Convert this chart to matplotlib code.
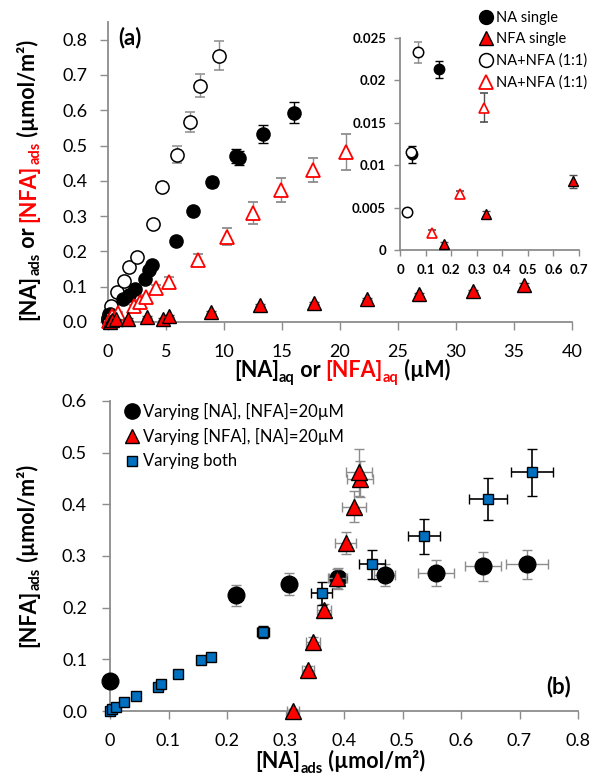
import matplotlib
matplotlib.use("Agg")
import matplotlib.pyplot as plt
from matplotlib.lines import Line2D

plt.rcParams['font.family'] = ['Lato', 'DejaVu Sans']

# ---------------- data: panel (a) ----------------
na_single_x = [0.045, 0.152, 1.3, 1.8, 2.3, 3.2, 3.5, 3.8, 5.86, 7.33, 8.97, 11.0, 11.3, 13.4, 16.0]
na_single_y = [0.0113, 0.0213, 0.065, 0.077, 0.094, 0.122, 0.148, 0.162, 0.230, 0.315, 0.397, 0.471, 0.465, 0.533, 0.593]
na_single_err = [0.001, 0.001, 0.004, 0.004, 0.005, 0.006, 0.007, 0.008, 0.010, 0.012, 0.015, 0.020, 0.020, 0.025, 0.030]

mix_na_x = [0.027, 0.043, 0.07, 0.26, 0.78, 1.38, 1.81, 2.5, 3.88, 4.66, 5.95, 7.07, 7.93, 9.57]
mix_na_y = [0.0045, 0.0115, 0.0233, 0.045, 0.085, 0.116, 0.156, 0.184, 0.278, 0.383, 0.474, 0.567, 0.670, 0.755]
mix_na_err = [0.0003, 0.0003, 0.0012, 0.003, 0.005, 0.006, 0.008, 0.009, 0.012, 0.015, 0.024, 0.028, 0.033, 0.040]

nfa_single_x = [0.172, 0.336, 0.676, 1.7, 3.4, 4.7, 5.3, 8.9, 13.1, 17.8, 22.3, 26.8, 31.5, 35.9]
nfa_single_y = [0.0007, 0.0043, 0.0081, 0.009, 0.014, 0.009, 0.017, 0.028, 0.048, 0.054, 0.065, 0.079, 0.088, 0.105]
nfa_single_err = [0.0003, 0.0003, 0.0008, 0.002, 0.002, 0.002, 0.002, 0.003, 0.003, 0.003, 0.003, 0.004, 0.004, 0.005]

mix_nfa_x = [0.125, 0.234, 0.328, 0.86, 2.2, 2.8, 3.3, 4.1, 5.3, 7.8, 10.3, 12.5, 14.9, 17.7, 20.5]
mix_nfa_y = [0.002, 0.0066, 0.0168, 0.025, 0.045, 0.057, 0.071, 0.096, 0.113, 0.176, 0.241, 0.309, 0.374, 0.431, 0.482]
mix_nfa_err = [0.0003, 0.0004, 0.0017, 0.003, 0.004, 0.005, 0.006, 0.008, 0.015, 0.016, 0.024, 0.030, 0.035, 0.035, 0.050]

legend_a = ["NA single", "NFA single", "NA+NFA (1:1)", "NA+NFA (1:1)"]

# ---------------- data: panel (b) ----------------
vna_x = [0.0, 0.215, 0.306, 0.39, 0.47, 0.557, 0.638, 0.713]
vna_y = [0.058, 0.224, 0.246, 0.257, 0.263, 0.267, 0.280, 0.284]
vna_xerr = [0.0, 0.010, 0.010, 0.015, 0.018, 0.031, 0.031, 0.036]
vna_yerr = [0.0, 0.020, 0.022, 0.020, 0.022, 0.026, 0.028, 0.028]

vnfa_x = [0.313, 0.339, 0.347, 0.366, 0.388, 0.403, 0.417, 0.427, 0.426]
vnfa_y = [0.0, 0.079, 0.134, 0.196, 0.257, 0.325, 0.395, 0.449, 0.462]
vnfa_xerr = [0.010, 0.010, 0.012, 0.012, 0.015, 0.018, 0.020, 0.022, 0.022]
vnfa_yerr = [0.004, 0.008, 0.010, 0.012, 0.018, 0.022, 0.030, 0.035, 0.045]

vb_x = [0.0, 0.004, 0.01, 0.024, 0.045, 0.082, 0.087, 0.117, 0.155, 0.172, 0.261, 0.362, 0.448, 0.537, 0.646, 0.721]
vb_y = [0.0, 0.003, 0.007, 0.017, 0.029, 0.047, 0.052, 0.072, 0.099, 0.104, 0.153, 0.228, 0.284, 0.338, 0.410, 0.462]
vb_xerr = [0.0, 0.0, 0.0, 0.0, 0.0, 0.0, 0.0, 0.0, 0.0, 0.004, 0.010, 0.018, 0.022, 0.027, 0.032, 0.036]
vb_yerr = [0.0, 0.0, 0.0, 0.0, 0.0, 0.0, 0.0, 0.0, 0.0, 0.004, 0.012, 0.022, 0.028, 0.034, 0.041, 0.046]

legend_b = ["Varying [NA], [NFA]=20µM", "Varying [NFA], [NA]=20µM", "Varying both"]

xticks_a = [0, 5, 10, 15, 20, 25, 30, 35, 40]
yticks_a = [0.0, 0.1, 0.2, 0.3, 0.4, 0.5, 0.6, 0.7, 0.8]
xticks_in = [0, 0.1, 0.2, 0.3, 0.4, 0.5, 0.6, 0.7]
yticks_in = [0, 0.005, 0.01, 0.015, 0.02, 0.025]
yticks_in_labels = ["0", "0.005", "0.01", "0.015", "0.02", "0.025"]
xticks_b = [0, 0.1, 0.2, 0.3, 0.4, 0.5, 0.6, 0.7, 0.8]
yticks_b = [0.0, 0.1, 0.2, 0.3, 0.4, 0.5, 0.6]

RED = '#FF0000'
BLUE = '#0070C0'
GRAY = '#8C8C8C'
SPINE = '#8C8C8C'

W, H = 597, 780
fig = plt.figure(figsize=(W / 100, H / 100), dpi=100)


def px_axes(l, t, r, b):
    return fig.add_axes([l / W, 1 - b / H, (r - l) / W, (b - t) / H])


def style(ax, fs, bold=False, length=5.5, xpad=11.5, ypad=9):
    for s in ['top', 'right']:
        ax.spines[s].set_visible(False)
    for s in ['left', 'bottom']:
        ax.spines[s].set_color(SPINE)
        ax.spines[s].set_linewidth(1.3)
    ax.tick_params(direction='out', length=length, width=1, color=SPINE, labelsize=fs)
    ax.tick_params(axis='x', pad=xpad)
    ax.tick_params(axis='y', pad=ypad)
    if bold:
        for lab in ax.get_xticklabels() + ax.get_yticklabels():
            lab.set_fontweight('bold')


# ---------------- panel (a) ----------------
axa = px_axes(108, 22, 572, 322)
axa.set_xlim(0, 40)
axa.set_ylim(0, 0.85)
axa.set_xticks(xticks_a)
axa.set_yticks(yticks_a)
axa.set_yticklabels([f"{v:.1f}" for v in yticks_a])
style(axa, 13, xpad=10.5, ypad=9)

ms_a = 9.5
kw = dict(elinewidth=1, capsize=3.5)
for art in [
    axa.errorbar(mix_na_x, mix_na_y, yerr=mix_na_err, fmt='o', ms=ms_a, mfc='white', mec='black',
                 mew=1.1, ecolor=GRAY, zorder=3, **kw),
    axa.errorbar(na_single_x, na_single_y, yerr=na_single_err, fmt='o', ms=ms_a, mfc='black', mec='black',
                 mew=1.0, ecolor='black', zorder=4, **kw),
    axa.errorbar(mix_nfa_x, mix_nfa_y, yerr=mix_nfa_err, fmt='^', ms=ms_a, mfc='white', mec=RED,
                 mew=1.3, ecolor=GRAY, zorder=5, **kw),
    axa.errorbar(nfa_single_x, nfa_single_y, yerr=nfa_single_err, fmt='^', ms=ms_a, mfc=RED, mec='black',
                 mew=1.0, ecolor='#404040', zorder=6, **kw),
]:
    for a in art.get_children():
        a.set_clip_on(False)
axa.text(0.022, 0.985, "(a)", transform=axa.transAxes, fontsize=16, fontweight='bold', va='top', ha='left')

# inset
axi = px_axes(400, 38, 579, 250)
axi.set_xlim(0, 0.7)
axi.set_ylim(0, 0.025)
axi.set_xticks(xticks_in)
axi.set_xticklabels(["0"] + [f"{v:.1f}" for v in xticks_in[1:]])
axi.set_yticks(yticks_in)
axi.set_yticklabels(yticks_in_labels)
axi.patch.set_alpha(0)
style(axi, 9.5, bold=True, length=4, xpad=6, ypad=6)
ms_i = 7.5
for art in [
    axi.errorbar(mix_na_x[:3], mix_na_y[:3], yerr=mix_na_err[:3], fmt='o', ms=ms_i, mfc='white', mec='black',
                 mew=1.1, ecolor=GRAY, elinewidth=1, capsize=3, zorder=3),
    axi.errorbar(na_single_x[:2], na_single_y[:2], yerr=na_single_err[:2], fmt='o', ms=ms_i, mfc='black',
                 mec='black', ecolor='black', elinewidth=1, capsize=3, zorder=2),
    axi.errorbar(mix_nfa_x[:3], mix_nfa_y[:3], yerr=mix_nfa_err[:3], fmt='^', ms=ms_i, mfc='white', mec=RED,
                 mew=1.2, ecolor='#505050', elinewidth=1, capsize=3, zorder=4),
    axi.errorbar(nfa_single_x[:3], nfa_single_y[:3], yerr=nfa_single_err[:3], fmt='^', ms=ms_i, mfc=RED,
                 mec='black', ecolor='#505050', elinewidth=1, capsize=3, zorder=5),
]:
    for a in art.get_children():
        a.set_clip_on(False)

handles_a = [
    Line2D([], [], ls='none', marker='o', ms=10, mfc='black', mec='black'),
    Line2D([], [], ls='none', marker='^', ms=10, mfc=RED, mec='black'),
    Line2D([], [], ls='none', marker='o', ms=10, mfc='white', mec='black', mew=1.1),
    Line2D([], [], ls='none', marker='^', ms=10, mfc='white', mec=RED, mew=1.3),
]
fig.legend(handles_a, legend_a, loc='upper left', bbox_to_anchor=(468 / W, 1 - 1 / H), frameon=False,
           fontsize=10.5, handlelength=1.05, handletextpad=0.2, labelspacing=0.5, borderpad=0.2)

# ---------------- panel (b) ----------------
axb = px_axes(110, 401, 578, 711)
axb.set_xlim(0, 0.8)
axb.set_ylim(0, 0.6)
axb.set_xticks(xticks_b)
axb.set_xticklabels(["0"] + [f"{v:.1f}" for v in xticks_b[1:]])
axb.set_yticks(yticks_b)
axb.set_yticklabels([f"{v:.1f}" for v in yticks_b])
style(axb, 13, xpad=10.5, ypad=11)

for art in [
    axb.errorbar(vna_x, vna_y, xerr=vna_xerr, yerr=vna_yerr, fmt='o', ms=12, mfc='black', mec='black',
                 ecolor=GRAY, elinewidth=1, capsize=3.5, zorder=3),
    axb.errorbar(vnfa_x, vnfa_y, xerr=vnfa_xerr, yerr=vnfa_yerr, fmt='^', ms=11, mfc=RED, mec='black',
                 mew=1.0, ecolor=GRAY, elinewidth=1, capsize=3.5, zorder=4),
    axb.errorbar(vb_x, vb_y, xerr=vb_xerr, yerr=vb_yerr, fmt='s', ms=7.5, mfc=BLUE, mec='black',
                 mew=1.0, ecolor='black', elinewidth=1.2, capsize=3.5, zorder=5),
]:
    for a in art.get_children():
        a.set_clip_on(False)
axb.text(0.985, 0.045, "(b)", transform=axb.transAxes, fontsize=16, fontweight='bold', va='bottom', ha='right')

handles_b = [
    Line2D([], [], ls='none', marker='o', ms=11, mfc='black', mec='black'),
    Line2D([], [], ls='none', marker='^', ms=10, mfc=RED, mec='black'),
    Line2D([], [], ls='none', marker='s', ms=7, mfc=BLUE, mec='black'),
]
fig.legend(handles_b, legend_b, loc='upper left', bbox_to_anchor=(113 / W, 1 - 391 / H), frameon=False,
           fontsize=12, handlelength=0.9, handletextpad=0.2, labelspacing=0.5, borderpad=0.2)

# ---------------- multi-part axis labels ----------------
fig.canvas.draw()
renderer = fig.canvas.get_renderer()


def measure(pieces, size):
    widths = []
    for txt, col, sub in pieces:
        s = size * 0.68 if sub else size
        t = fig.text(0, 0, txt, fontsize=s, fontweight='bold')
        widths.append(t.get_window_extent(renderer).width)
        t.remove()
    return widths


def rich_label_h(pieces, cx, base_y, size):
    widths = measure(pieces, size)
    pos = cx - sum(widths) / 2
    for (txt, col, sub), w in zip(pieces, widths):
        s = size * 0.68 if sub else size
        off = size * 1.39 * 0.22 if sub else 0
        fig.text(pos / W, 1 - (base_y + off) / H, txt, fontsize=s, fontweight='bold', color=col,
                 ha='left', va='baseline')
        pos += w


def rich_label_v(pieces, base_x, cy, size):
    widths = measure(pieces, size)
    pos = cy + sum(widths) / 2
    for (txt, col, sub), w in zip(pieces, widths):
        s = size * 0.68 if sub else size
        off = size * 1.39 * 0.22 if sub else 0
        fig.text((base_x + off) / W, 1 - pos / H, txt, fontsize=s, fontweight='bold', color=col, rotation=90,
                 rotation_mode='anchor', ha='left', va='baseline')
        pos -= w


LS = 15.5
rich_label_h([("[NA]", 'black', False), ("aq", 'black', True), (" or ", 'black', False),
              ("[NFA]", RED, False), ("aq", RED, True), (" (µM)", 'black', False)],
             342, 377, LS)
rich_label_v([("[NA]", 'black', False), ("ads", 'black', True), (" or ", 'black', False),
              ("[NFA]", RED, False), ("ads", RED, True), (" (µmol/m²)", 'black', False)],
             35, 180, LS)
rich_label_h([("[NA]", 'black', False), ("ads", 'black', True), (" (µmol/m²)", 'black', False)],
             340, 768, LS)
rich_label_v([("[NFA]", 'black', False), ("ads", 'black', True), (" (µmol/m²)", 'black', False)],
             35, 556, LS)

fig.savefig("out.png", dpi=100)
